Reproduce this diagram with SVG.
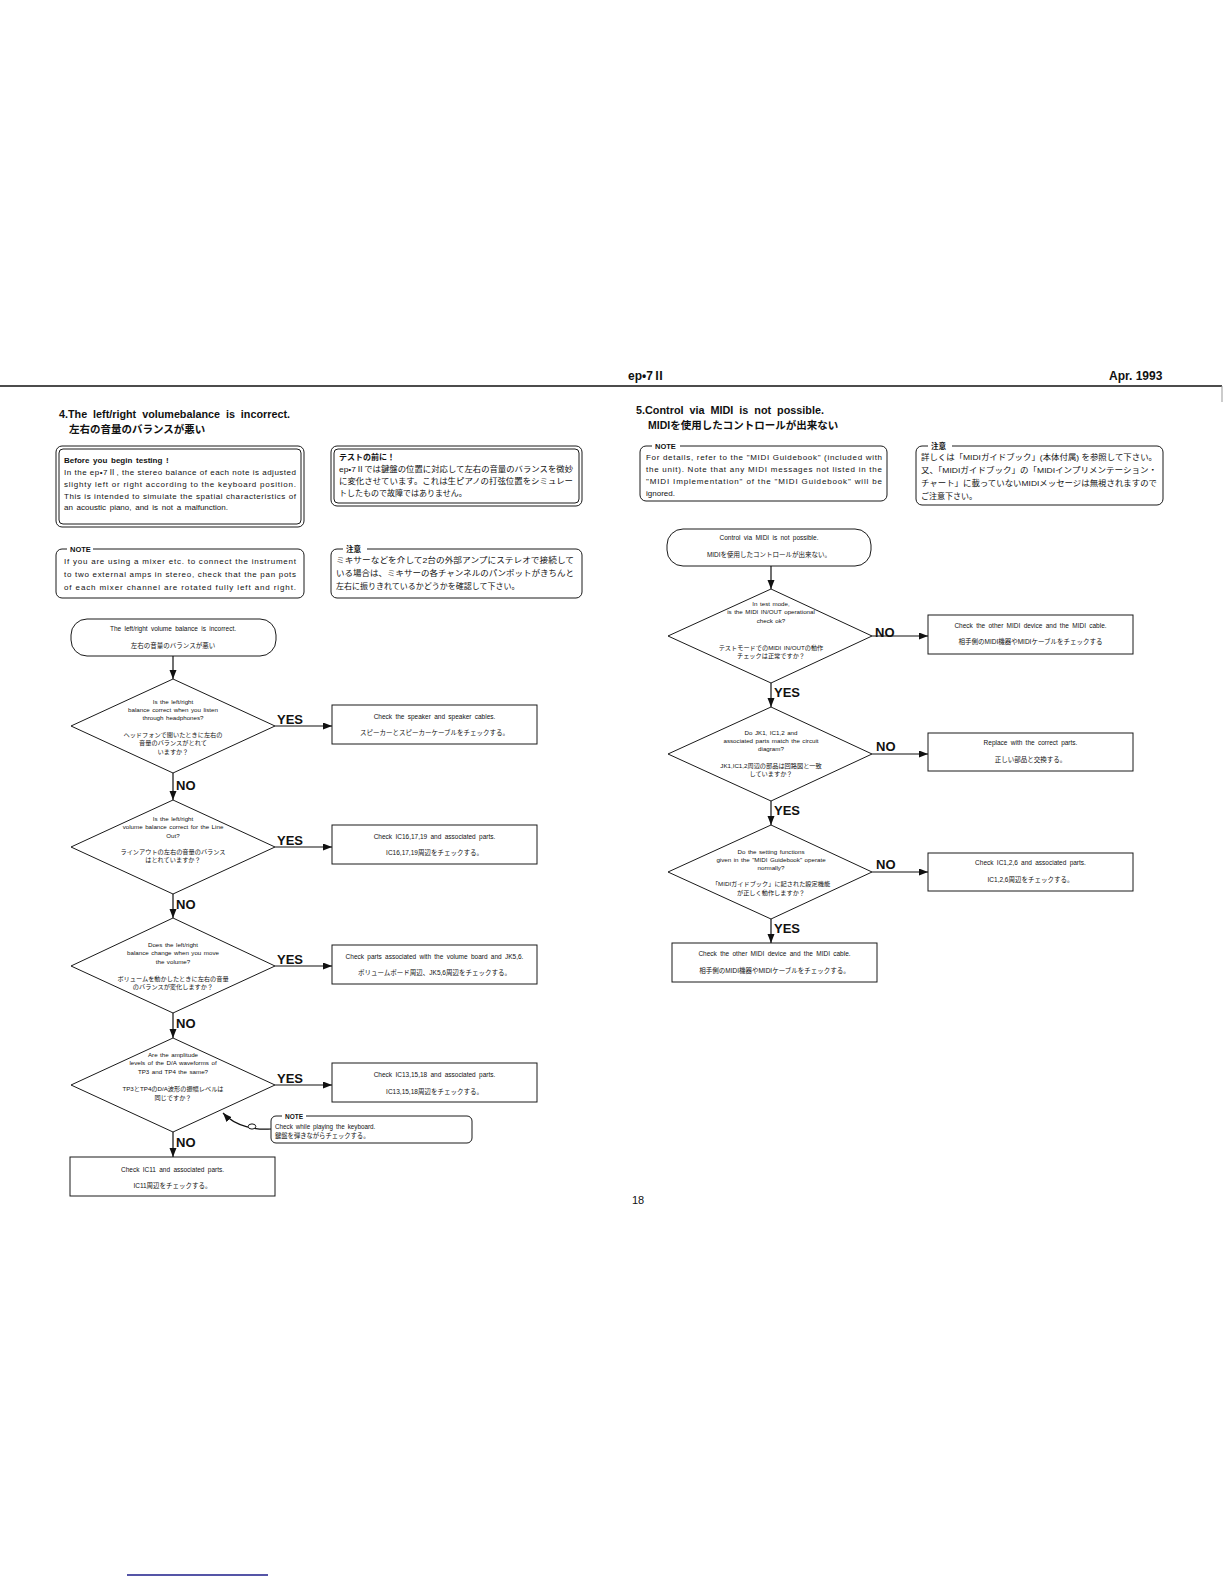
<svg xmlns="http://www.w3.org/2000/svg" width="1224" height="1584" viewBox="0 0 1224 1584">
<defs>
<marker id="ah" markerUnits="userSpaceOnUse" markerWidth="10" markerHeight="8" refX="9" refY="3.5" orient="auto">
<path d="M0,0 L9,3.5 L0,7 z" fill="#111"/>
</marker>
</defs>
<style>
text { font-family: "Liberation Sans","Noto Sans CJK JP",sans-serif; fill:#111; }
.c { text-anchor: middle; font-size: 6.5px; word-spacing: 1.5px; }
.d { text-anchor: middle; font-size: 6.2px; word-spacing: 0.8px; }
.b { fill: none; stroke: #1a1a1a; stroke-width: 1; }
.ln { stroke: #111; stroke-width: 1.2; fill: none; marker-end: url(#ah); }
.yn { font-size: 13px; font-weight: bold; }
.p { font-size: 8px; word-spacing: 1.5px; }
.pj { font-size: 8px; }
.lbl { font-size: 7.5px; font-weight: bold; }
.h { font-size: 12px; font-weight: bold; }
.ti { font-size: 11px; font-weight: bold; word-spacing: 3px; }
.tj { font-size: 10.5px; font-weight: bold; }
</style>
<rect width="1224" height="1584" fill="#fff"/>

<g id="header">
<line x1="0" y1="386" x2="1222" y2="386" stroke="#111" stroke-width="1.6"/>
<line x1="1222" y1="386" x2="1222" y2="402" stroke="#999" stroke-width="1"/>
<text class="h" x="628" y="380">ep•7Ⅱ</text>
<text class="h" x="1109" y="380">Apr. 1993</text>
<text x="638" y="1204" font-size="11" text-anchor="middle">18</text>
<line x1="127" y1="1575" x2="268" y2="1575" stroke="#1c1c8a" stroke-width="1.3"/>
</g>

<g id="sec4-title">
<text class="ti" x="59" y="418" textLength="231" lengthAdjust="spacingAndGlyphs">4.The left/right volumebalance is incorrect.</text>
<text class="tj" x="69" y="433">左右の音量のバランスが悪い</text>
</g>

<g id="sec5-title">
<text class="ti" x="636" y="414" textLength="188" lengthAdjust="spacingAndGlyphs">5.Control via MIDI is not possible.</text>
<text class="tj" x="648" y="429">MIDIを使用したコントロールが出来ない</text>
</g>

<g id="box-before-en">
<rect class="b" x="56" y="446" width="248" height="81" rx="6"/>
<rect class="b" x="59" y="449" width="242" height="75" rx="4"/>
<text class="pj" x="64" y="463" font-weight="bold" word-spacing="1.5">Before you begin testing !</text>
<text class="pj" x="64" y="475" textLength="232" lengthAdjust="spacing">In the ep•7Ⅱ, the stereo balance of each note is adjusted</text>
<text class="pj" x="64" y="487" textLength="232" lengthAdjust="spacing">slighty left or right according to the keyboard position.</text>
<text class="pj" x="64" y="499" textLength="232" lengthAdjust="spacing">This is intended to simulate the spatial characteristics of</text>
<text class="p" x="64" y="510">an acoustic piano, and is not a malfunction.</text>
</g>

<g id="box-before-jp">
<rect class="b" x="331" y="446" width="251" height="60" rx="6"/>
<rect class="b" x="334" y="449" width="245" height="54" rx="4"/>
<text class="pj" x="339" y="460" font-weight="bold">テストの前に！</text>
<text class="pj" x="339" y="472" textLength="234" lengthAdjust="spacingAndGlyphs">ep•7Ⅱでは鍵盤の位置に対応して左右の音量のバランスを微妙</text>
<text class="pj" x="339" y="484" textLength="234" lengthAdjust="spacingAndGlyphs">に変化させています。これは生ピアノの打弦位置をシミュレー</text>
<text class="pj" x="339" y="496">トしたもので故障ではありません。</text>
</g>

<g id="note-mixer-en">
<rect class="b" x="56" y="549" width="248" height="49" rx="6"/>
<rect x="67" y="544" width="26" height="9" fill="#fff"/>
<text class="lbl" x="70" y="552">NOTE</text>
<text class="pj" x="64" y="564" textLength="232" lengthAdjust="spacing">If you are using a mixer etc. to connect the instrument</text>
<text class="pj" x="64" y="577" textLength="232" lengthAdjust="spacing">to two external amps in stereo, check that the pan pots</text>
<text class="pj" x="64" y="590" textLength="232" lengthAdjust="spacing">of each mixer channel are rotated fully left and right.</text>
</g>

<g id="note-mixer-jp">
<rect class="b" x="331" y="549" width="251" height="49" rx="6"/>
<rect x="343" y="544" width="24" height="9" fill="#fff"/>
<text class="lbl" x="346" y="552">注意</text>
<text class="pj" x="336" y="563" textLength="238" lengthAdjust="spacingAndGlyphs">ミキサーなどを介して2台の外部アンプにステレオで接続して</text>
<text class="pj" x="336" y="576" textLength="238" lengthAdjust="spacingAndGlyphs">いる場合は、ミキサーの各チャンネルのパンポットがきちんと</text>
<text class="pj" x="336" y="589">左右に振りきれているかどうかを確認して下さい。</text>
</g>

<g id="note-midi-en">
<rect class="b" x="640" y="446" width="247" height="55" rx="6"/>
<rect x="652" y="441" width="28" height="9" fill="#fff"/>
<text class="lbl" x="655" y="449">NOTE</text>
<text class="pj" x="646" y="460" textLength="236" lengthAdjust="spacing">For details, refer to the "MIDI Guidebook" (included with</text>
<text class="pj" x="646" y="472" textLength="236" lengthAdjust="spacing">the unit). Note that any MIDI messages not listed in the</text>
<text class="pj" x="646" y="484" textLength="236" lengthAdjust="spacing">"MIDI Implementation" of the "MIDI Guidebook" will be</text>
<text class="pj" x="646" y="496">ignored.</text>
</g>

<g id="note-midi-jp">
<rect class="b" x="916" y="446" width="247" height="59" rx="6"/>
<rect x="928" y="441" width="24" height="9" fill="#fff"/>
<text class="lbl" x="931" y="449">注意</text>
<text class="pj" x="921" y="460" textLength="236" lengthAdjust="spacingAndGlyphs">詳しくは「MIDIガイドブック」(本体付属) を参照して下さい。</text>
<text class="pj" x="921" y="473" textLength="236" lengthAdjust="spacingAndGlyphs">又、「MIDIガイドブック」の「MIDIインプリメンテーション・</text>
<text class="pj" x="921" y="486" textLength="236" lengthAdjust="spacingAndGlyphs">チャート」に載っていないMIDIメッセージは無視されますので</text>
<text class="pj" x="921" y="499">ご注意下さい。</text>
</g>

<!-- Left flowchart -->
<g id="L-start">
<rect class="b" x="71" y="619" width="205" height="37" rx="16"/>
<text class="c" x="173" y="631">The left/right volume balance is incorrect.</text>
<text class="c" x="173" y="648">左右の音量のバランスが悪い</text>
</g>
<g id="L-d1">
<polygon class="b" points="173,679 275,726 173,773 71,726"/>
<text class="d" x="173" y="704">Is the left/right</text>
<text class="d" x="173" y="712">balance correct when you listen</text>
<text class="d" x="173" y="720">through headphones?</text>
<text class="d" x="173" y="737">ヘッドフォンで聞いたときに左右の</text>
<text class="d" x="173" y="745">音量のバランスがとれて</text>
<text class="d" x="173" y="754">いますか？</text>
</g>
<g id="L-a">
<rect class="b" x="332" y="705" width="205" height="39"/>
<text class="c" x="434.5" y="719">Check the speaker and speaker cables.</text>
<text class="c" x="434.5" y="735">スピーカーとスピーカーケーブルをチェックする。</text>
</g>
<g id="L-d2">
<polygon class="b" points="173,800 275,847 173,894 71,847"/>
<text class="d" x="173" y="821">Is the left/right</text>
<text class="d" x="173" y="829">volume balance correct for the Line</text>
<text class="d" x="173" y="838">Out?</text>
<text class="d" x="173" y="854">ラインアウトの左右の音量のバランス</text>
<text class="d" x="173" y="862">はとれていますか？</text>
</g>
<g id="L-b">
<rect class="b" x="332" y="825" width="205" height="39"/>
<text class="c" x="434.5" y="839">Check IC16,17,19 and associated parts.</text>
<text class="c" x="434.5" y="855">IC16,17,19周辺をチェックする。</text>
</g>
<g id="L-d3">
<polygon class="b" points="173,918 275,966 173,1013 71,966"/>
<text class="d" x="173" y="947">Does the left/right</text>
<text class="d" x="173" y="955">balance change when you move</text>
<text class="d" x="173" y="964">the volume?</text>
<text class="d" x="173" y="981">ボリュームを動かしたときに左右の音量</text>
<text class="d" x="173" y="989">のバランスが変化しますか？</text>
</g>
<g id="L-c">
<rect class="b" x="332" y="945" width="205" height="39"/>
<text class="c" x="434.5" y="959">Check parts associated with the volume board and JK5,6.</text>
<text class="c" x="434.5" y="975">ボリュームボード周辺、JK5,6周辺をチェックする。</text>
</g>
<g id="L-d4">
<polygon class="b" points="173,1038 275,1085 173,1132 71,1085"/>
<text class="d" x="173" y="1057">Are the amplitude</text>
<text class="d" x="173" y="1065">levels of the D/A waveforms of</text>
<text class="d" x="173" y="1074">TP3 and TP4 the same?</text>
<text class="d" x="173" y="1091">TP3とTP4のD/A波形の振幅レベルは</text>
<text class="d" x="173" y="1100">同じですか？</text>
</g>
<g id="L-d">
<rect class="b" x="332" y="1063" width="205" height="39"/>
<text class="c" x="434.5" y="1077">Check IC13,15,18 and associated parts.</text>
<text class="c" x="434.5" y="1094">IC13,15,18周辺をチェックする。</text>
</g>
<g id="L-note">
<rect class="b" x="271" y="1116" width="201" height="27" rx="5"/>
<rect x="282" y="1112" width="24" height="8" fill="#fff"/>
<text x="285" y="1118.5" font-size="6.5" font-weight="bold">NOTE</text>
<text x="275" y="1129" font-size="6.3" word-spacing="1.2">Check while playing the keyboard.</text>
<text x="275" y="1138" font-size="6.3">鍵盤を弾きながらチェックする。</text>
</g>
<g id="L-e">
<rect class="b" x="70" y="1157" width="205" height="39"/>
<text class="c" x="172.5" y="1172">Check IC11 and associated parts.</text>
<text class="c" x="172.5" y="1188">IC11周辺をチェックする。</text>
</g>

<!-- Right flowchart -->
<g id="R-start">
<rect class="b" x="667" y="529" width="204" height="37" rx="16"/>
<text class="c" x="769" y="540">Control via MIDI is not possible.</text>
<text class="c" x="769" y="557">MIDIを使用したコントロールが出来ない。</text>
</g>
<g id="R-d1">
<polygon class="b" points="771,589 872,636 771,683 668,636"/>
<text class="d" x="771" y="606">In test mode,</text>
<text class="d" x="771" y="614">is the MIDI IN/OUT operational</text>
<text class="d" x="771" y="623">check ok?</text>
<text class="d" x="771" y="650">テストモードでのMIDI IN/OUTの動作</text>
<text class="d" x="771" y="658">チェックは正常ですか？</text>
</g>
<g id="R-a">
<rect class="b" x="928" y="615" width="205" height="39"/>
<text class="c" x="1030.5" y="628">Check the other MIDI device and the MIDI cable.</text>
<text class="c" x="1030.5" y="644">相手側のMIDI機器やMIDIケーブルをチェックする</text>
</g>
<g id="R-d2">
<polygon class="b" points="771,707 872,754 771,801 668,754"/>
<text class="d" x="771" y="735">Do JK1, IC1,2 and</text>
<text class="d" x="771" y="743">associated parts match the circuit</text>
<text class="d" x="771" y="751">diagram?</text>
<text class="d" x="771" y="768">JK1,IC1,2周辺の部品は回路図と一致</text>
<text class="d" x="771" y="776">していますか？</text>
</g>
<g id="R-b">
<rect class="b" x="928" y="733" width="205" height="38"/>
<text class="c" x="1030.5" y="745">Replace with the correct parts.</text>
<text class="c" x="1030.5" y="762">正しい部品と交換する。</text>
</g>
<g id="R-d3">
<polygon class="b" points="771,825 872,872 771,919 668,872"/>
<text class="d" x="771" y="854">Do the setting functions</text>
<text class="d" x="771" y="862">given in the "MIDI Guidebook" operate</text>
<text class="d" x="771" y="870">normally?</text>
<text class="d" x="771" y="886">「MIDIガイドブック」に記された設定機能</text>
<text class="d" x="771" y="895">が正しく動作しますか？</text>
</g>
<g id="R-c">
<rect class="b" x="928" y="853" width="205" height="38"/>
<text class="c" x="1030.5" y="865">Check IC1,2,6 and associated parts.</text>
<text class="c" x="1030.5" y="882">IC1,2,6周辺をチェックする。</text>
</g>
<g id="R-d">
<rect class="b" x="672" y="943" width="205" height="39"/>
<text class="c" x="774.5" y="956">Check the other MIDI device and the MIDI cable.</text>
<text class="c" x="774.5" y="973">相手側のMIDI機器やMIDIケーブルをチェックする。</text>
</g>

<g id="connectors">
<line class="ln" x1="173" y1="656" x2="173" y2="679"/>
<line class="ln" x1="275" y1="726" x2="332" y2="726"/>
<line class="ln" x1="173" y1="773" x2="173" y2="800"/>
<line class="ln" x1="275" y1="847" x2="332" y2="847"/>
<line class="ln" x1="173" y1="894" x2="173" y2="918"/>
<line class="ln" x1="275" y1="966" x2="332" y2="966"/>
<line class="ln" x1="173" y1="1013" x2="173" y2="1038"/>
<line class="ln" x1="275" y1="1085" x2="332" y2="1085"/>
<line class="ln" x1="173" y1="1132" x2="173" y2="1157"/>
<path class="ln" d="M271,1129 C256,1130 236,1127 223,1113"/>
<ellipse cx="252" cy="1126.5" rx="3.8" ry="2.6" fill="#fff" stroke="#111" stroke-width="1"/>
<line class="ln" x1="771" y1="566" x2="771" y2="589"/>
<line class="ln" x1="872" y1="636" x2="928" y2="636"/>
<line class="ln" x1="771" y1="683" x2="771" y2="707"/>
<line class="ln" x1="872" y1="754" x2="928" y2="754"/>
<line class="ln" x1="771" y1="801" x2="771" y2="825"/>
<line class="ln" x1="872" y1="872" x2="928" y2="872"/>
<line class="ln" x1="771" y1="919" x2="771" y2="943"/>
<text class="yn" x="277" y="724">YES</text>
<text class="yn" x="176" y="790">NO</text>
<text class="yn" x="277" y="845">YES</text>
<text class="yn" x="176" y="909">NO</text>
<text class="yn" x="277" y="964">YES</text>
<text class="yn" x="176" y="1028">NO</text>
<text class="yn" x="277" y="1083">YES</text>
<text class="yn" x="176" y="1147">NO</text>
<text class="yn" x="875" y="637">NO</text>
<text class="yn" x="774" y="697">YES</text>
<text class="yn" x="876" y="751">NO</text>
<text class="yn" x="774" y="815">YES</text>
<text class="yn" x="876" y="869">NO</text>
<text class="yn" x="774" y="933">YES</text>
</g>
</svg>
